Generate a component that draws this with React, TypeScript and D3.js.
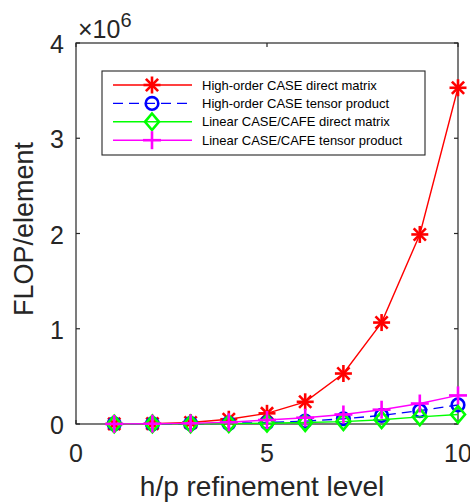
import React from "react";
import * as d3 from "d3";

const levels = [1, 2, 3, 4, 5, 6, 7, 8, 9, 10];
const highOrderDirect = [0.001e6, 0.004e6, 0.015e6, 0.05e6, 0.112e6, 0.233e6, 0.53e6, 1.065e6, 1.99e6, 3.53e6];
const highOrderTensor = [0.0005e6, 0.001e6, 0.003e6, 0.007e6, 0.015e6, 0.03e6, 0.055e6, 0.09e6, 0.14e6, 0.2e6];
const linearDirect = [0.0003e6, 0.0008e6, 0.002e6, 0.004e6, 0.008e6, 0.015e6, 0.025e6, 0.045e6, 0.075e6, 0.1e6];
const linearTensor = [0.001e6, 0.003e6, 0.007e6, 0.018e6, 0.042e6, 0.066e6, 0.1e6, 0.15e6, 0.215e6, 0.3e6];
const seriesNames = [
  "High-order CASE direct matrix",
  "High-order CASE tensor product",
  "Linear CASE/CAFE direct matrix",
  "Linear CASE/CAFE tensor product",
];
const xTicks = [0, 5, 10];
const yTicks = [0, 1e6, 2e6, 3e6, 4e6];

type Series = { name: string; values: number[]; color: string; marker: string; dash?: string };
const series: Series[] = [
  { name: seriesNames[0], values: highOrderDirect, color: "#ff0000", marker: "star" },
  { name: seriesNames[1], values: highOrderTensor, color: "#0000ff", marker: "circle", dash: "10,6" },
  { name: seriesNames[2], values: linearDirect, color: "#00ff00", marker: "diamond" },
  { name: seriesNames[3], values: linearTensor, color: "#ff00ff", marker: "plus" },
];

const FONT = "'Liberation Sans', Arial, Helvetica, sans-serif";
const TXT = "#262626";

function Marker({ kind, x, y, color }: { kind: string; x: number; y: number; color: string }) {
  const sw = 2.6;
  if (kind === "star") {
    const r = 8.5;
    const d = r * 0.72;
    return (
      <g stroke={color} strokeWidth={sw} fill="none">
        <line x1={x - r} y1={y} x2={x + r} y2={y} />
        <line x1={x} y1={y - r} x2={x} y2={y + r} />
        <line x1={x - d} y1={y - d} x2={x + d} y2={y + d} />
        <line x1={x - d} y1={y + d} x2={x + d} y2={y - d} />
      </g>
    );
  }
  if (kind === "circle") {
    return <circle cx={x} cy={y} r={6.3} stroke={color} strokeWidth={sw} fill="none" />;
  }
  if (kind === "diamond") {
    const w = 7, h = 8.3;
    return (
      <path
        d={`M${x},${y - h}L${x + w},${y}L${x},${y + h}L${x - w},${y}Z`}
        stroke={color}
        strokeWidth={sw}
        fill="none"
      />
    );
  }
  const r = 9;
  return (
    <g stroke={color} strokeWidth={sw}>
      <line x1={x - r} y1={y} x2={x + r} y2={y} />
      <line x1={x} y1={y - r} x2={x} y2={y + r} />
    </g>
  );
}

export default function App() {
  const W = 470, H = 504;
  const X0 = 76, X1 = 458, Y0 = 424, Y1 = 43;
  const x = d3.scaleLinear().domain([0, 10]).range([X0, X1]);
  const y = d3.scaleLinear().domain([0, 4e6]).range([Y0, Y1]);
  const line = d3
    .line<number>()
    .x((_, i) => x(levels[i]))
    .y((v) => y(v));
  const tl = 4;

  const legX = 102, legY = 71, legW = 323, legH = 84;
  const rowY = (i: number) => 85 + i * 18.4;

  return (
    <svg
      width={W}
      height={H}
      style={{ position: "absolute", left: 0, top: 0, background: "#fff" }}
      fontFamily={FONT}
    >
      <rect x={0} y={0} width={W} height={H} fill="#fff" />
      {/* axes box */}
      <rect x={X0} y={Y1} width={X1 - X0} height={Y0 - Y1} fill="none" stroke={TXT} strokeWidth={1.2} />
      {xTicks.map((t) => (
        <g key={"xt" + t}>
          <line x1={x(t)} x2={x(t)} y1={Y0} y2={Y0 - tl} stroke={TXT} strokeWidth={1.2} />
          <line x1={x(t)} x2={x(t)} y1={Y1} y2={Y1 + tl} stroke={TXT} strokeWidth={1.2} />
          <text x={x(t)} y={Y0 + 38} textAnchor="middle" fontSize={25} fill={TXT}>
            {t}
          </text>
        </g>
      ))}
      {yTicks.map((t) => (
        <g key={"yt" + t}>
          <line x1={X0} x2={X0 + tl} y1={y(t)} y2={y(t)} stroke={TXT} strokeWidth={1.2} />
          <line x1={X1} x2={X1 - tl} y1={y(t)} y2={y(t)} stroke={TXT} strokeWidth={1.2} />
          <text x={64} y={y(t) + 10} textAnchor="end" fontSize={25} fill={TXT}>
            {t / 1e6}
          </text>
        </g>
      ))}
      <text x={78} y={38} fontSize={25} fill={TXT}>
        ×10
        <tspan dy={-11} fontSize={20}>
          6
        </tspan>
      </text>
      {/* series */}
      {series.map((s) => (
        <g key={s.name}>
          <path d={line(s.values) || ""} fill="none" stroke={s.color} strokeWidth={1.4} strokeDasharray={s.dash} />
          {s.values.map((v, i) => (
            <Marker key={i} kind={s.marker} x={x(levels[i])} y={y(v)} color={s.color} />
          ))}
        </g>
      ))}
      {/* legend */}
      <rect x={legX} y={legY} width={legW} height={legH} fill="#fff" stroke={TXT} strokeWidth={1.1} />
      {series.map((s, i) => (
        <g key={"leg" + i}>
          <line
            x1={113}
            x2={192}
            y1={rowY(i)}
            y2={rowY(i)}
            stroke={s.color}
            strokeWidth={1.4}
            strokeDasharray={s.dash}
          />
          <Marker kind={s.marker} x={152} y={rowY(i)} color={s.color} />
          <text x={202} y={rowY(i) + 4.6} fontSize={13} fill="#000">
            {s.name}
          </text>
        </g>
      ))}
      <text x={262} y={496} textAnchor="middle" fontSize={28} fill={TXT}>
        h/p refinement level
      </text>
      <text transform={`translate(33,229) rotate(-90)`} textAnchor="middle" fontSize={27} fill={TXT}>
        FLOP/element
      </text>
    </svg>
  );
}
